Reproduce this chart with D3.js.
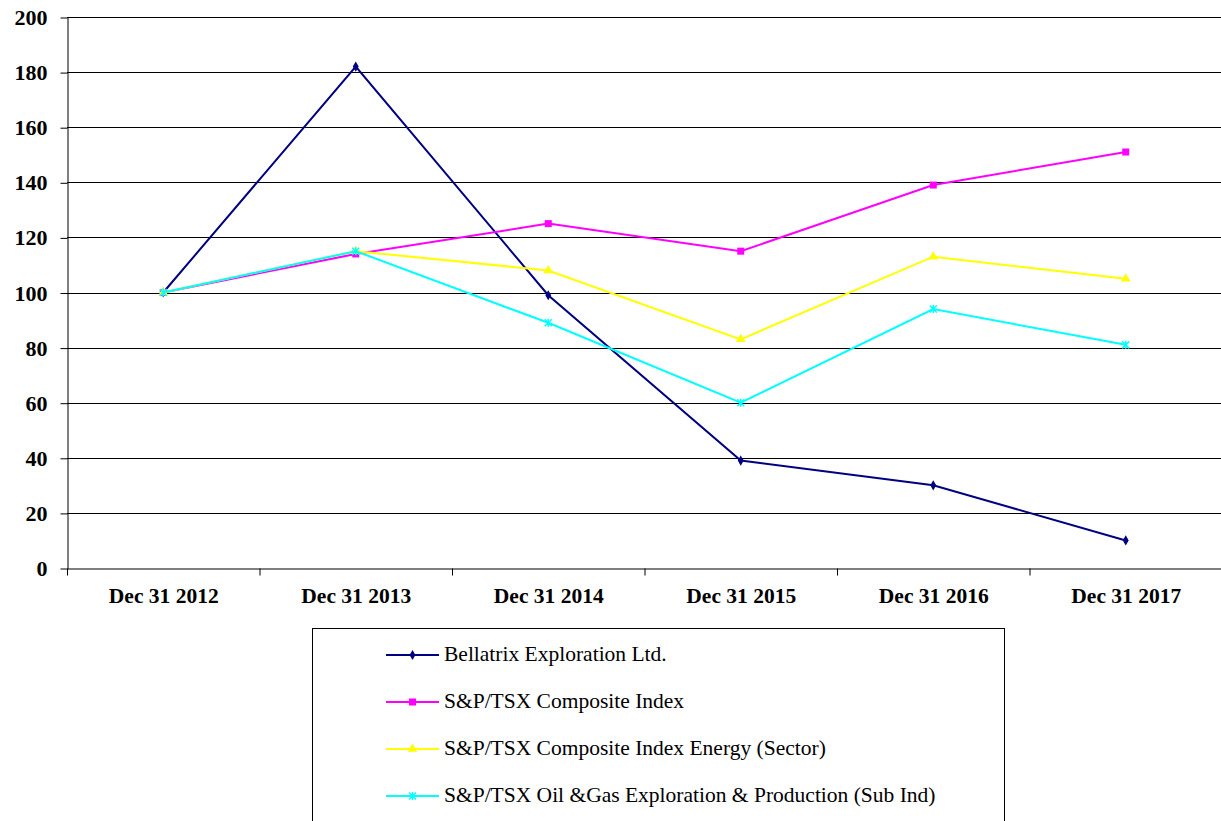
<!DOCTYPE html>
<html>
<head>
<meta charset="utf-8">
<script src="https://cdn.jsdelivr.net/npm/d3@7/dist/d3.min.js"></script>
<style>
  body { margin: 0; background: #fff; }
  svg text { font-family: "Liberation Serif", "Times New Roman", Tinos, "Nimbus Roman", "DejaVu Serif", serif; }
</style>
</head>
<body>
<svg id="chart"></svg>
<script>
// Data
const years = ["Dec 31 2012", "Dec 31 2013", "Dec 31 2014", "Dec 31 2015", "Dec 31 2016", "Dec 31 2017"];
const bellatrix = [100, 182, 99, 39, 30, 10];
const composite = [100, 114, 125, 115, 139, 151];
const energy = [100, 115, 108, 83, 113, 105];
const oilGas = [100, 115, 89, 60, 94, 81];
const yTicks = [0, 20, 40, 60, 80, 100, 120, 140, 160, 180, 200];

const series = [
  { name: "Bellatrix Exploration Ltd.", values: bellatrix, color: "#000080", marker: "diamond" },
  { name: "S&P/TSX Composite Index", values: composite, color: "#ff00ff", marker: "square" },
  { name: "S&P/TSX Composite Index Energy (Sector)", values: energy, color: "#ffff00", marker: "triangle" },
  { name: "S&P/TSX Oil &Gas Exploration & Production (Sub Ind)", values: oilGas, color: "#00ffff", marker: "cross" }
];

const svgWidth = 1221;
const svgHeight = 821;
const svg = d3.select("#chart").attr("width", svgWidth).attr("height", svgHeight);

// Plot area
const plotLeft = 67, plotRight = 1222, plotTop = 17, plotBottom = 568;

const x = d3.scaleBand().domain(years).range([plotLeft, plotRight]);
const y = d3.scaleLinear().domain([0, 200]).range([plotBottom, plotTop]);

// Gridlines
svg.append("g")
  .selectAll("line")
  .data(yTicks.filter(d => d > 0))
  .join("line")
  .attr("x1", plotLeft)
  .attr("x2", plotRight)
  .attr("y1", d => Math.round(y(d)) + 0.5)
  .attr("y2", d => Math.round(y(d)) + 0.5)
  .attr("stroke", "#000")
  .attr("stroke-width", 1);

// Y axis
const yAxis = svg.append("g")
  .attr("transform", `translate(${plotLeft + 0.5},0.5)`)
  .call(d3.axisLeft(y).tickValues(yTicks).tickSize(7).tickPadding(13).tickSizeOuter(0));
yAxis.attr("font-family", null);
yAxis.select(".domain").attr("stroke", "#000");
yAxis.selectAll("text")
  .attr("font-weight", "bold")
  .attr("font-size", 22)
  .attr("fill", "#000");

// X axis
const xAxis = svg.append("g")
  .attr("transform", `translate(0.5,${plotBottom + 0.5})`)
  .call(d3.axisBottom(x).tickSize(0).tickPadding(19));
xAxis.attr("font-family", null);
xAxis.select(".domain").attr("stroke", "#000");
xAxis.selectAll("text")
  .attr("font-weight", "bold")
  .attr("font-size", 21.5)
  .attr("fill", "#000");
// tick marks between categories
xAxis.selectAll("line.sep")
  .data(years)
  .join("line")
  .attr("class", "sep")
  .attr("x1", d => x(d))
  .attr("x2", d => x(d))
  .attr("y1", 0)
  .attr("y2", 7)
  .attr("stroke", "#000");

// Marker helper
function drawMarker(g, type, color, cx, cy) {
  if (type === "diamond") {
    g.append("path")
      .attr("d", d3.symbol().type(d3.symbolDiamond).size(30)())
      .attr("transform", `translate(${cx},${cy})`)
      .attr("fill", color);
  } else if (type === "square") {
    g.append("rect")
      .attr("x", cx - 3.5).attr("y", cy - 3.5)
      .attr("width", 7).attr("height", 7)
      .attr("fill", color);
  } else if (type === "triangle") {
    g.append("path")
      .attr("d", d3.symbol().type(d3.symbolTriangle).size(40)())
      .attr("transform", `translate(${cx},${cy})`)
      .attr("fill", color);
  } else {
    g.append("path")
      .attr("d", `M${cx - 3.5},${cy - 3.5}L${cx + 3.5},${cy + 3.5}M${cx - 3.5},${cy + 3.5}L${cx + 3.5},${cy - 3.5}M${cx},${cy - 4}L${cx},${cy + 4}`)
      .attr("stroke", color)
      .attr("stroke-width", 1.5)
      .attr("fill", "none");
  }
}

// Lines, in series order so the last series sits on top
const line = d3.line()
  .x((d, i) => x(years[i]) + x.bandwidth() / 2)
  .y(d => y(d));

const plot = svg.append("g");
series.forEach(s => {
  const g = plot.append("g");
  g.append("path")
    .datum(s.values)
    .attr("d", line)
    .attr("fill", "none")
    .attr("stroke", s.color)
    .attr("stroke-width", 2);
  s.values.forEach((v, i) => {
    drawMarker(g, s.marker, s.color, x(years[i]) + x.bandwidth() / 2, y(v));
  });
});

// Legend
const legend = svg.append("g");
legend.append("rect")
  .attr("x", 312.5)
  .attr("y", 628.5)
  .attr("width", 692)
  .attr("height", 220)
  .attr("fill", "none")
  .attr("stroke", "#000");

series.forEach((s, i) => {
  const ly = 655 + i * 47;
  const row = legend.append("g");
  row.append("line")
    .attr("x1", 386).attr("x2", 439)
    .attr("y1", ly).attr("y2", ly)
    .attr("stroke", s.color)
    .attr("stroke-width", 2);
  drawMarker(row, s.marker, s.color, 412.5, ly);
  row.append("text")
    .attr("x", 444)
    .attr("y", ly + 6)
    .attr("font-size", 21.5)
    .attr("fill", "#000")
    .text(s.name);
});
</script>
</body>
</html>
